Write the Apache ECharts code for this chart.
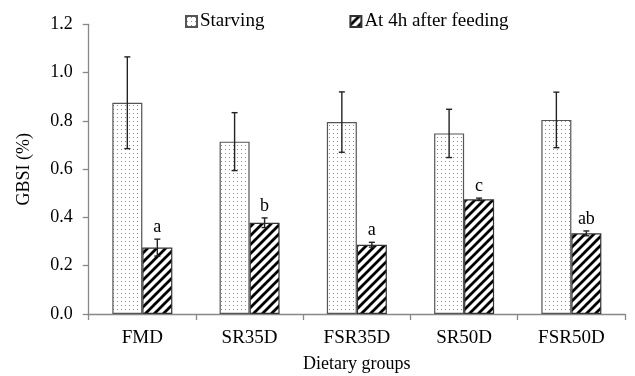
<!DOCTYPE html>
<html>
<head>
<meta charset="utf-8">
<script src="https://cdn.jsdelivr.net/npm/echarts@6/dist/echarts.min.js"></script>
<style>html,body{margin:0;padding:0;background:#fff}#c{width:635px;height:376px}</style>
</head>
<body>
<div id="c"></div>
<script>
const categories = ['FMD', 'SR35D', 'FSR35D', 'SR50D', 'FSR50D'];
const starvingMean = [0.875, 0.714, 0.795, 0.748, 0.804];
const starvingSD = [0.19, 0.12, 0.125, 0.10, 0.115];
const fedMean = [0.275, 0.378, 0.287, 0.475, 0.334];
const fedSD = [0.035, 0.02, 0.01, 0.005, 0.01];
const fedLetters = ['a', 'b', 'a', 'c', 'ab'];
const seriesNames = ['Starving', 'At 4h after feeding'];

const FONT = "'Liberation Serif', 'Times New Roman', serif";

function dotPattern() {
  const c = document.createElement('canvas');
  c.width = 4; c.height = 4;
  const ctx = c.getContext('2d');
  ctx.fillStyle = '#fff'; ctx.fillRect(0, 0, 4, 4);
  ctx.fillStyle = '#8a8a8a'; ctx.fillRect(1, 1, 1, 1);
  return c;
}
function hatchPattern() {
  const p = 9;
  const c = document.createElement('canvas');
  c.width = p; c.height = p;
  const ctx = c.getContext('2d');
  ctx.fillStyle = '#fff'; ctx.fillRect(0, 0, p, p);
  ctx.strokeStyle = '#000'; ctx.lineWidth = 2.8;
  ctx.beginPath();
  ctx.moveTo(-1, p + 1); ctx.lineTo(p + 1, -1);
  ctx.moveTo(-2, 2); ctx.lineTo(2, -2);
  ctx.moveTo(p - 2, p + 2); ctx.lineTo(p + 2, p - 2);
  ctx.stroke();
  return c;
}

const BAR_W = 30;

function errSeries(means, sds, offset, letters) {
  const data = means.map((m, i) => [i, m - sds[i], m + sds[i], letters ? letters[i] : '']);
  return {
    type: 'custom',
    silent: true,
    z: 5,
    data: data,
    renderItem: function (params, api) {
      const x = api.value(0);
      const lo = api.coord([x, api.value(1)]);
      const hi = api.coord([x, api.value(2)]);
      const cx = lo[0] + offset;
      const cap = 3;
      const children = [
        { type: 'line', shape: { x1: cx, y1: lo[1], x2: cx, y2: hi[1] }, style: { stroke: '#222', lineWidth: 1.4 } },
        { type: 'line', shape: { x1: cx - cap, y1: hi[1], x2: cx + cap, y2: hi[1] }, style: { stroke: '#222', lineWidth: 1.4 } },
        { type: 'line', shape: { x1: cx - cap, y1: lo[1], x2: cx + cap, y2: lo[1] }, style: { stroke: '#222', lineWidth: 1.4 } }
      ];
      const lbl = api.value(3);
      if (lbl) {
        children.push({
          type: 'text',
          style: { text: lbl, x: cx, y: hi[1] - 3, textAlign: 'center', textVerticalAlign: 'bottom', font: '18px ' + FONT, fill: '#000' }
        });
      }
      return { type: 'group', children: children };
    }
  };
}

const chart = echarts.init(document.getElementById('c'), null, { renderer: 'canvas' });
chart.setOption({
  backgroundColor: '#fff',
  animation: false,
  textStyle: { fontFamily: FONT, color: '#000' },
  legend: {
    data: seriesNames,
    left: 180, top: 7,
    icon: 'rect',
    itemWidth: 11, itemHeight: 11, itemGap: 85,
    textStyle: { fontFamily: FONT, fontSize: 19, color: '#000', padding: [0, 0, 0, -2] }
  },
  grid: { left: 88.7, right: 10, top: 24.3, bottom: 62, containLabel: false, outerBoundsMode: 'none' },
  xAxis: {
    type: 'category',
    data: categories,
    name: 'Dietary groups',
    nameLocation: 'middle',
    nameGap: 41,
    nameTextStyle: { fontFamily: FONT, fontSize: 18, color: '#000' },
    axisLine: { lineStyle: { color: '#888', width: 1.3 } },
    axisTick: { show: true, length: 6, lineStyle: { color: '#888', width: 1.3 } },
    axisLabel: { fontFamily: FONT, fontSize: 19, color: '#000', margin: 15 }
  },
  yAxis: {
    type: 'value',
    min: 0, max: 1.2, interval: 0.2,
    name: 'GBSI (%)',
    nameLocation: 'middle',
    nameGap: 55,
    nameRotate: 90,
    nameTextStyle: { fontFamily: FONT, fontSize: 18, color: '#000' },
    axisLine: { show: true, lineStyle: { color: '#888', width: 1.3 } },
    axisTick: { show: true, length: 6, lineStyle: { color: '#888', width: 1.3 } },
    splitLine: { show: false },
    axisLabel: { fontFamily: FONT, fontSize: 18, color: '#000', margin: 16, formatter: v => v.toFixed(1) }
  },
  series: [
    {
      name: seriesNames[0], type: 'bar', data: starvingMean, barWidth: BAR_W, barGap: '0%',
      itemStyle: { color: { image: dotPattern(), repeat: 'repeat' }, borderColor: '#555', borderWidth: 1.2 }
    },
    {
      name: seriesNames[1], type: 'bar', data: fedMean, barWidth: BAR_W, barGap: '0%',
      itemStyle: { color: { image: hatchPattern(), repeat: 'repeat' }, borderColor: '#333', borderWidth: 1.2 }
    },
    errSeries(starvingMean, starvingSD, -BAR_W / 2, null),
    errSeries(fedMean, fedSD, BAR_W / 2, fedLetters)
  ]
});
</script>
</body>
</html>
